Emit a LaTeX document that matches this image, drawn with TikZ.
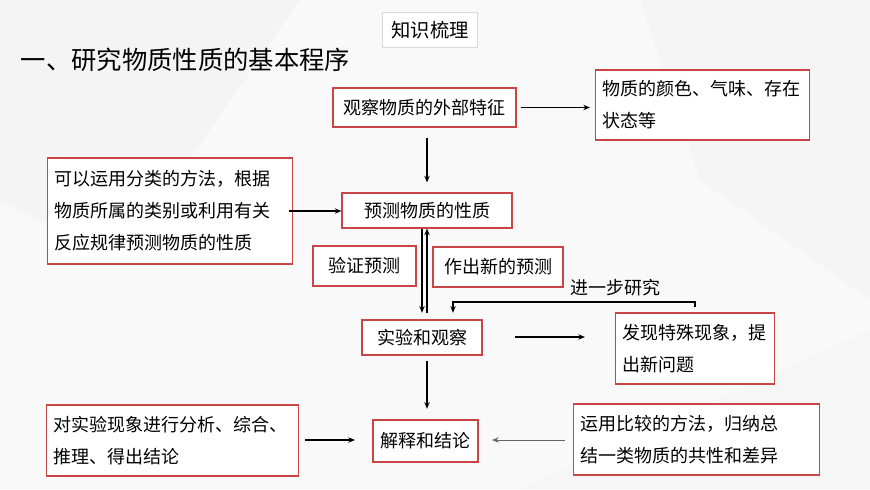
\documentclass[tikz,border=0pt]{standalone}
\usepackage{fontspec}
\setmainfont{Noto Sans CJK SC}
\usetikzlibrary{arrows.meta}
\definecolor{boxred}{RGB}{200,70,70}
\tikzset{
  redbox/.style={draw=boxred, fill=white, line width=0.8pt, inner xsep=5pt, inner ysep=0pt, font=\fontsize{13.5}{24}\selectfont},
  flow/.style={-{Stealth[length=5pt,width=4pt]}, line width=1.4pt},
  thinflow/.style={-{Stealth[length=5pt,width=4pt]}, line width=0.7pt, gray!80!black}
}
\begin{document}
\begin{tikzpicture}[x=0.75pt,y=-0.75pt]

%Background
\fill[gray!5] (0,0) rectangle (870,489);
\fill[gray!9] (0,0) -- (300,0) -- (120,260) -- (0,200) -- cycle;
\fill[gray!8] (640,0) -- (870,0) -- (870,300) -- (700,180) -- cycle;
\fill[gray!7] (520,489) -- (870,330) -- (870,489) -- cycle;
\useasboundingbox (0,0) rectangle (870,489);

%Title and Heading
\node[draw=gray!30, fill=white, minimum width=95*0.75pt, minimum height=35*0.75pt, font=\fontsize{14.5}{16}\selectfont] (title) at (430,30) {知识梳理};
\node[anchor=west, font=\fontsize{19}{21}\selectfont] (head) at (16,60) {一、研究物质性质的基本程序};

%Boxes
\node[redbox, minimum width=183*0.75pt, minimum height=39*0.75pt] (observe) at (424.5,107.5) {观察物质的外部特征};
\node[redbox, text width=200*0.75pt, minimum height=70*0.75pt, align=left] (color) at (702.5,105) {物质的颜色、气味、存在\\状态等};
\node[redbox, text width=232*0.75pt, minimum height=106*0.75pt, align=left] (classify) at (170,211) {可以运用分类的方法，根据\\物质所属的类别或利用有关\\反应规律预测物质的性质};
\node[redbox, minimum width=170*0.75pt, minimum height=35*0.75pt] (predict) at (427,210.5) {预测物质的性质};
\node[redbox, minimum width=103*0.75pt, minimum height=40*0.75pt] (verify) at (364.5,266) {验证预测};
\node[redbox, minimum width=130*0.75pt, minimum height=40*0.75pt] (newpred) at (498,267) {作出新的预测};
\node[redbox, minimum width=120*0.75pt, minimum height=35*0.75pt] (experiment) at (422,337.5) {实验和观察};
\node[redbox, text width=146*0.75pt, minimum height=71*0.75pt, align=left] (discover) at (695,348.5) {发现特殊现象，提\\出新问题};
\node[redbox, text width=238*0.75pt, minimum height=71*0.75pt, align=left] (analyse) at (172.5,440.5) {对实验现象进行分析、综合、\\推理、得出结论};
\node[redbox, minimum width=105*0.75pt, minimum height=42*0.75pt] (conclude) at (425.5,441) {解释和结论};
\node[redbox, text width=233*0.75pt, minimum height=71*0.75pt, align=left] (compare) at (696.5,439.5) {运用比较的方法，归纳总\\结一类物质的共性和差异};
\node[font=\fontsize{13.5}{15}\selectfont] (further) at (615,288) {进一步研究};

%Free ends
\coordinate (a1) at (515,337);
\coordinate (a2) at (585,337);
\coordinate (b1) at (305,440);
\coordinate (b2) at (355,440);
\coordinate (c1) at (565,440);
\coordinate (c2) at (492,440);
\coordinate (fb) at (453,302);

%Arrows
\draw[flow] ([yshift=-10*0.75pt]observe.south -| 427,0) -- ([yshift=10*0.75pt]predict.north -| 427,0);
\draw[flow] ([xshift=3pt]observe.east) -- ([xshift=-4pt]color.west |- observe.east);
\draw[flow] ([xshift=-3pt]classify.east) -- (predict.west |- classify.east);
\draw[flow] (predict.south -| 422,0) -- ([yshift=5pt]experiment.north -| 422,0);
\draw[flow] ([yshift=5pt]experiment.north -| 427,0) -- (predict.south -| 427,0);
\draw[flow] ([yshift=4pt]discover.north) |- (fb) -- ([yshift=5pt]fb |- experiment.north);
\draw[flow] (a1) -- (a2);
\draw[flow] ([yshift=-4pt]experiment.south -| 427,0) -- ([yshift=8pt]conclude.north -| 427,0);
\draw[flow] (b1) -- (b2);
\draw[thinflow] (c1) -- (c2);

\end{tikzpicture}
\end{document}
